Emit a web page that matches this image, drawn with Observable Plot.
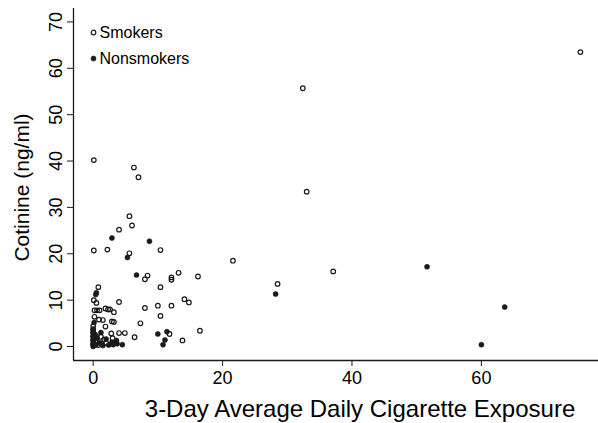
<!DOCTYPE html>
<html><head><meta charset="utf-8">
<script src="https://cdn.jsdelivr.net/npm/d3@7"></script>
<script src="https://cdn.jsdelivr.net/npm/@observablehq/plot@0.6"></script>
<style>
html,body{margin:0;padding:0;background:#fff;}
</style></head><body><div id="chart"></div>
<script>
// Smokers (hollow markers): [exposure, cotinine]
const smokers = [
  [0.1,40.2],[6.3,38.6],[7.0,36.5],[5.6,28.1],[6.0,26.1],[4.0,25.2],
  [0.1,20.7],[2.2,20.9],[5.6,20.1],[10.4,20.8],
  [8.0,14.5],[8.4,15.3],[13.2,15.9],[12.1,14.9],[12.1,14.4],[16.2,15.1],
  [10.4,12.8],[0.8,12.8],[0.1,10.0],[0.5,9.4],[4.0,9.6],[8.0,8.3],[10.0,8.8],[12.1,8.8],
  [14.1,10.2],[14.8,9.5],[10.4,6.6],[7.3,5.0],
  [0.2,7.8],[0.6,7.8],[1.0,7.8],[1.9,8.2],[2.3,8.0],[2.6,8.0],[3.2,7.4],
  [0.9,5.8],[1.5,5.7],[2.9,5.4],[3.2,5.3],[1.9,4.3],[4.9,2.9],[4.0,2.9],[6.4,2.0],
  [11.8,2.7],[13.8,1.3],[16.5,3.4],
  [21.6,18.5],[28.5,13.5],[37.1,16.2],[32.4,55.7],[33.0,33.4],[75.3,63.5],
  [0.0,0.5],[0.0,1.3],[0.0,2.1],[0.0,2.9],[0.0,3.6],[0.0,4.4],[0.3,1.0],[0.5,2.2],
  [1.2,2.1],[1.7,1.5],[0.8,0.3],[2.8,2.8],[3.0,1.8],[2.0,0.8],[1.3,0.6],[0.2,6.4]
];
// Nonsmokers (filled markers): [exposure, cotinine]
const nonsmokers = [
  [2.9,23.4],[8.7,22.7],[5.3,19.2],[6.7,15.4],[0.5,11.6],[0.4,11.2],[0.15,5.2],
  [28.2,11.3],[51.6,17.2],[63.6,8.5],[60.0,0.4],
  [10.0,2.7],[11.4,3.2],[11.1,1.4],[10.8,0.4],[4.5,0.4],[2.9,0.9],[3.6,1.3],[3.1,0.4],[3.7,0.6],
  [0,0],[0,0.6],[0,1.4],[0,2.2],[0,3.0],[0,3.8],[0.4,0.3],[0.6,1.8],[1.0,0.8],[1.5,0.2],
  [0.3,2.6],[2.0,1.6],[1.2,3.0],[2.4,0.3]
];
const xTicks = [0, 20, 40, 60];
const yTicks = [0, 10, 20, 30, 40, 50, 60, 70];
const legendLabels = ["Smokers", "Nonsmokers"];
const xTitle = "3-Day Average Daily Cigarette Exposure";
const yTitle = "Cotinine (ng/ml)";

const xDomain = [-3.04, 78.1];
const yDomain = [-3.02, 72.9];
const ink = "#1a1a1a";

const chart = Plot.plot({
  width: 598,
  height: 423,
  marginLeft: 73,
  marginRight: 0,
  marginTop: 8,
  marginBottom: 63,
  style: {fontFamily: "'Liberation Sans', Arial, sans-serif", background: "#fff", color: "#000"},
  x: {domain: xDomain},
  y: {domain: yDomain},
  marks: [
    Plot.ruleX([xDomain[0]], {stroke: ink, strokeWidth: 1.3}),
    Plot.ruleY([yDomain[0]], {stroke: ink, strokeWidth: 1.3}),
    Plot.axisX({ticks: xTicks, tickSize: 6, tickPadding: 5, fontSize: 18, label: null, stroke: ink}),
    Plot.axisY({ticks: yTicks, tickSize: 6, tickPadding: 6, tickRotate: -90, fontSize: 18, label: null, stroke: ink}),
    Plot.text([xTitle], {frameAnchor: "bottom", dx: 24, dy: 49, lineAnchor: "middle", textAnchor: "middle", fontSize: 24, fill: "#000"}),
    Plot.text([yTitle], {frameAnchor: "left", dx: -51, dy: 3, rotate: -90, lineAnchor: "middle", textAnchor: "middle", fontSize: 21, fill: "#000"}),
    Plot.dot(smokers, {x: d => d[0], y: d => d[1], r: 2.3, stroke: ink, strokeWidth: 1.2, fill: "none"}),
    Plot.dot(nonsmokers, {x: d => d[0], y: d => d[1], r: 2.5, fill: ink, stroke: ink, strokeWidth: 0.6}),
    // legend
    Plot.dot([legendLabels[0]], {frameAnchor: "top-left", dx: 20, dy: 24, r: 2.3, stroke: ink, strokeWidth: 1.2, fill: "none"}),
    Plot.dot([legendLabels[1]], {frameAnchor: "top-left", dx: 20, dy: 50, r: 2.5, fill: ink, stroke: ink, strokeWidth: 0.6}),
    Plot.text([legendLabels[0]], {frameAnchor: "top-left", dx: 26, dy: 24, text: d => d, textAnchor: "start", lineAnchor: "middle", fontSize: 16, fill: "#000"}),
    Plot.text([legendLabels[1]], {frameAnchor: "top-left", dx: 26, dy: 50, text: d => d, textAnchor: "start", lineAnchor: "middle", fontSize: 16, fill: "#000"})
  ]
});
document.getElementById("chart").appendChild(chart);
</script>
</body></html>
